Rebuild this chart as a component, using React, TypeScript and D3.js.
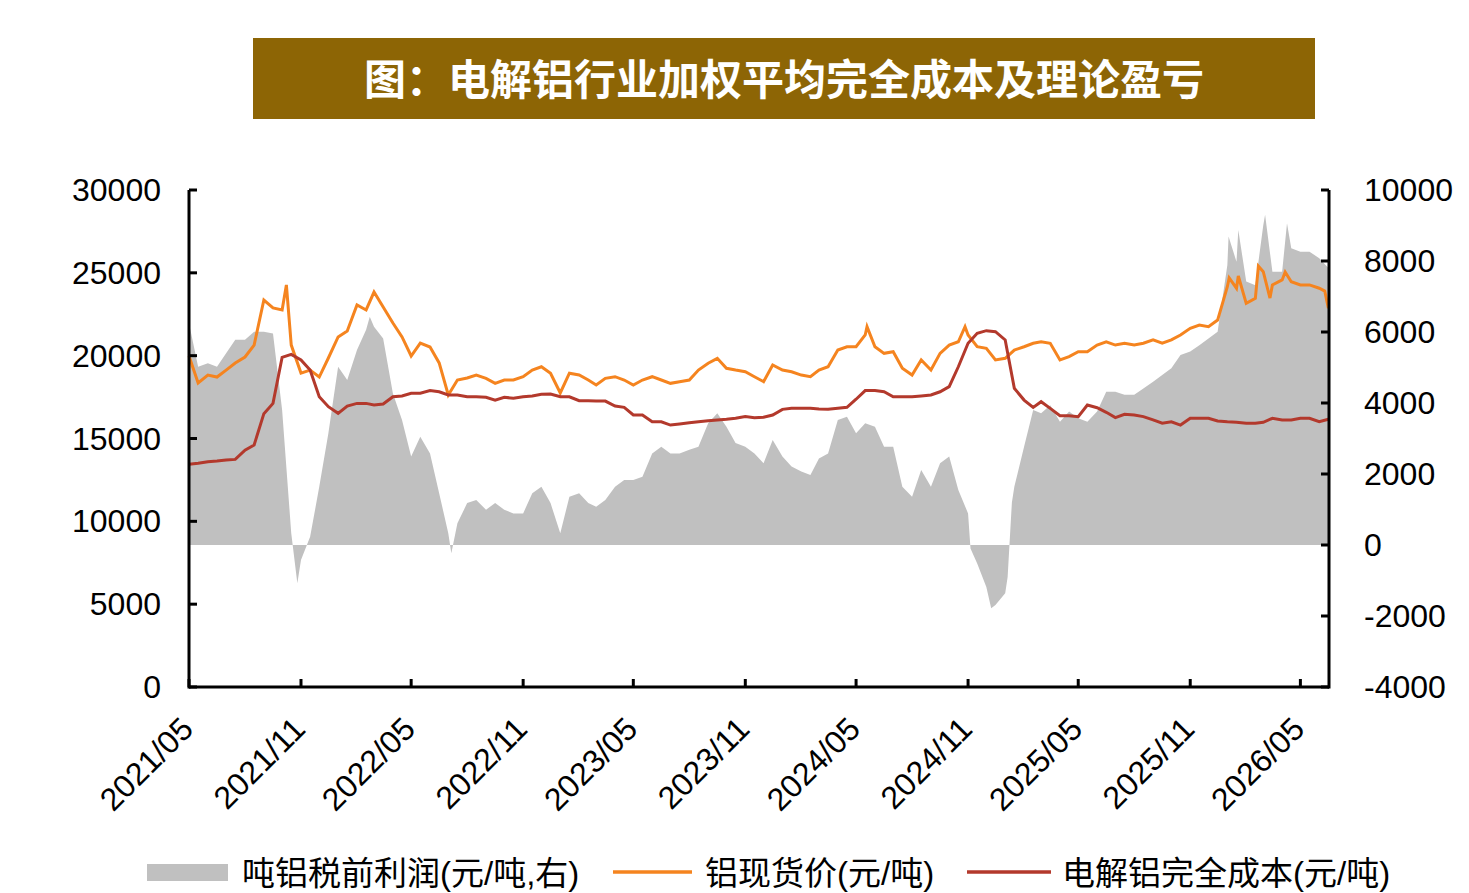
import * as d3 from "d3";

// 电解铝行业加权平均完全成本及理论盈亏 — dual axis area + lines

const W = 1469;
const H = 893;
const PLOT = { left: 189, right: 1329, top: 190, bottom: 687 };

const COLORS = { profit: "#c0c0c0", price: "#f5841f", cost: "#b3392c", banner: "#8d6505" };
const NUM_FONT = "'Liberation Sans', Arial, sans-serif";
const CJK_FONT = "'Liberation Sans', Arial, 'Noto Sans CJK SC', sans-serif";

// sample dates: 1st and 16th of each month, 2021/05 .. 2026/06
const GRID = d3.timeMonth
  .range(new Date(2021, 4, 1), new Date(2026, 6, 1))
  .flatMap((m) => [m, new Date(m.getFullYear(), m.getMonth(), 16)]);

// 铝现货价(元/吨)
const priceValues = [
  19980, 18350, 18830, 18710, 19130, 19560, 19920, 20640, 23360, 22880, 22760, 20640,
  18950, 19130, 18710, 19860, 21130, 21490, 23060, 22760, 23840, 22940, 21970, 21130,
  19980, 20760, 20520, 19560, 17630, 18530, 18650, 18830, 18630, 18330, 18530, 18530,
  18730, 19130, 19330, 18940, 17750, 18940, 18830, 18530, 18230, 18630, 18730, 18530,
  18230, 18530, 18730, 18530, 18330, 18430, 18530, 19130, 19540, 19840, 19240, 19130,
  19030, 18730, 18430, 19440, 19130, 19030, 18830, 18730, 19130, 19330, 20340, 20540,
  20540, 21250, 20540, 20140, 20240, 19240, 18830, 19740, 19130, 20140, 20640, 20840,
  21250, 20540, 20440, 19740, 19840, 20340, 20540, 20750, 20840, 20750, 19740, 19940,
  20240, 20240, 20640, 20840, 20640, 20750, 20640, 20750, 20950, 20750, 20950, 21250,
  21650, 21850, 21750, 22150, 24160, 24070, 23160, 23460, 25070, 24270, 24570, 24460,
  24270, 24270, 24070, 22860,
];
const priceSpikes: [string, number][] = [
  ["2021-10-08", 24270],
  ["2024-05-19", 21750],
  ["2024-10-27", 21750],
  ["2026-01-04", 24690],
  ["2026-01-19", 24810],
  ["2026-02-21", 25410],
  ["2026-03-12", 23480],
  ["2026-04-06", 25050],
  ["2026-06-10", 23900],
];

// 电解铝完全成本(元/吨)
const costValues = [
  13440, 13500, 13600, 13640, 13700, 13740, 14300, 14610, 16500, 17120, 19900, 20080,
  19740, 19130, 17520, 16920, 16520, 16960, 17120, 17120, 17020, 17080, 17520, 17570,
  17730, 17730, 17890, 17820, 17630, 17630, 17520, 17520, 17490, 17320, 17490, 17430,
  17520, 17570, 17670, 17690, 17520, 17520, 17280, 17280, 17260, 17260, 16960, 16880,
  16420, 16420, 16010, 16010, 15810, 15880, 15950, 16010, 16070, 16120, 16160, 16220,
  16320, 16260, 16280, 16420, 16760, 16820, 16820, 16820, 16780, 16760, 16820, 16880,
  17370, 17890, 17890, 17820, 17520, 17520, 17520, 17570, 17630, 17820, 18130, 19330,
  20750, 21350, 21510, 21450, 20950, 18030, 17320, 16880, 17220, 16820, 16380, 16380,
  16320, 17020, 16860, 16580, 16260, 16460, 16420, 16320, 16120, 15920, 16010, 15810,
  16220, 16220, 16220, 16060, 16010, 15980, 15920, 15920, 15980, 16220, 16120, 16120,
  16220, 16220, 16010, 16160,
];

// 吨铝税前利润(元/吨, 右轴)
const profitValues = [
  6250, 5020, 5120, 5020, 5400, 5780, 5780, 6010, 6010, 5960, 3800, 330,
  -420, 230, 1640, 3150, 5020, 4650, 5490, 6060, 6150, 5820, 4270, 3520,
  2490, 3050, 2580, 1460, 330, 610, 1180, 1270, 990, 1180, 990, 890,
  890, 1460, 1640, 1180, 330, 1360, 1460, 1180, 1080, 1270, 1640, 1830,
  1830, 1920, 2580, 2770, 2580, 2580, 2680, 2770, 3430, 3710, 3330, 2870,
  2770, 2580, 2300, 2960, 2490, 2210, 2070, 1970, 2440, 2580, 3520, 3610,
  3150, 3430, 3330, 2770, 2770, 1640, 1360, 2110, 1640, 2300, 2490, 1550,
  890, -520, -1180, -1690, -1360, 1640, 2770, 3800, 3710, 3940, 3470, 3760,
  3570, 3470, 3760, 4320, 4320, 4230, 4230, 4410, 4600, 4790, 4980, 5350,
  5450, 5630, 5820, 6010, 7890, 7980, 7420, 7320, 9010, 7700, 7700, 8360,
  8260, 8260, 8080, 7800,
];
const profitSpikes: [string, number][] = [
  ["2021-10-26", -1080],
  ["2022-02-22", 6430],
  ["2022-07-06", -230],
  ["2024-11-05", -100],
  ["2024-12-09", -1780],
  ["2025-01-05", -900],
  ["2025-01-08", 0],
  ["2025-01-12", 1200],
  ["2026-01-03", 8690],
  ["2026-01-19", 8870],
  ["2026-03-04", 9300],
  ["2026-04-09", 9060],
];

const leftTicks = [0, 5000, 10000, 15000, 20000, 25000, 30000];
const rightTicks = [-4000, -2000, 0, 2000, 4000, 6000, 8000, 10000];
const dateTicks = d3.timeMonth.range(new Date(2021, 4, 1), new Date(2026, 5, 1), 6);

const TITLE = "图：电解铝行业加权平均完全成本及理论盈亏";
const LEGEND = ["吨铝税前利润(元/吨,右)", "铝现货价(元/吨)", "电解铝完全成本(元/吨)"];

type Pt = { date: Date; value: number };
const parse = d3.timeParse("%Y-%m-%d");

const build = (vals: number[], extra: [string, number][] = []): Pt[] =>
  [
    ...GRID.map((d, i) => ({ date: d, value: vals[i] })),
    ...extra.map(([s, v]) => ({ date: parse(s) as Date, value: v })),
  ].sort((a, b) => +a.date - +b.date);

export default function App() {
  const x = d3
    .scaleTime()
    .domain([new Date(2021, 4, 1), new Date(2026, 5, 17)])
    .range([PLOT.left, PLOT.right]);
  const yL = d3.scaleLinear().domain([0, 30000]).range([PLOT.bottom, PLOT.top]);
  const yR = d3.scaleLinear().domain([-4000, 10000]).range([PLOT.bottom, PLOT.top]);

  const price = build(priceValues, priceSpikes);
  const cost = build(costValues);
  const profit = build(profitValues, profitSpikes);

  const area = d3
    .area<Pt>()
    .x((d) => x(d.date))
    .y0(yR(0))
    .y1((d) => yR(d.value));
  const lineL = d3
    .line<Pt>()
    .x((d) => x(d.date))
    .y((d) => yL(d.value));

  const fmt = d3.timeFormat("%Y/%m");

  return (
    <svg
      width={W}
      height={H}
      style={{ position: "absolute", left: 0, top: 0, background: "#fff" }}
    >
      {/* title banner */}
      <rect x={253} y={38} width={1062} height={81} fill={COLORS.banner} />
      <text
        x={784}
        y={95}
        textAnchor="middle"
        fontSize={42}
        fontWeight="bold"
        fill="#fff"
        fontFamily="'Noto Sans CJK SC', sans-serif"
      >
        {TITLE}
      </text>

      {/* data */}
      <path d={area(profit) ?? ""} fill={COLORS.profit} />
      <path d={lineL(price) ?? ""} fill="none" stroke={COLORS.price} strokeWidth={3} />
      <path d={lineL(cost) ?? ""} fill="none" stroke={COLORS.cost} strokeWidth={3} />

      {/* axes */}
      <g stroke="#000" strokeWidth={3} fill="none">
        <line x1={PLOT.left} x2={PLOT.left} y1={PLOT.top} y2={PLOT.bottom + 1.5} />
        <line x1={PLOT.right} x2={PLOT.right} y1={PLOT.top} y2={PLOT.bottom + 1.5} />
        <line x1={PLOT.left} x2={PLOT.right} y1={PLOT.bottom} y2={PLOT.bottom} />
        {leftTicks.map((t) => (
          <line key={`lt${t}`} x1={PLOT.left} x2={PLOT.left + 8} y1={yL(t)} y2={yL(t)} />
        ))}
        {rightTicks.map((t) => (
          <line key={`rt${t}`} x1={PLOT.right - 8} x2={PLOT.right} y1={yR(t)} y2={yR(t)} />
        ))}
        {dateTicks.map((d) => (
          <line key={`bt${+d}`} x1={x(d)} x2={x(d)} y1={PLOT.bottom} y2={PLOT.bottom - 8} />
        ))}
      </g>

      <g fontFamily={NUM_FONT} fontSize={32} fill="#000">
        {leftTicks.map((t) => (
          <text key={`ll${t}`} x={161} y={yL(t) + 11} textAnchor="end">
            {t}
          </text>
        ))}
        {rightTicks.map((t) => (
          <text key={`rl${t}`} x={1364} y={yR(t) + 11} textAnchor="start">
            {t}
          </text>
        ))}
        {dateTicks.map((d) => (
          <text
            key={`bl${+d}`}
            textAnchor="end"
            transform={`translate(${x(d) + 6},${731}) rotate(-45)`}
          >
            {fmt(d)}
          </text>
        ))}
      </g>

      {/* legend (kept just inside the bottom edge) */}
      <g fontFamily={CJK_FONT} fontSize={33} fill="#000">
        <rect x={147} y={864} width={81} height={17} fill={COLORS.profit} />
        <text x={242} y={885}>{LEGEND[0]}</text>
        <line x1={613} x2={692} y1={872} y2={872} stroke={COLORS.price} strokeWidth={3.5} />
        <text x={705} y={885}>{LEGEND[1]}</text>
        <line x1={967} x2={1051} y1={872} y2={872} stroke={COLORS.cost} strokeWidth={3.5} />
        <text x={1062} y={885}>{LEGEND[2]}</text>
      </g>
    </svg>
  );
}
